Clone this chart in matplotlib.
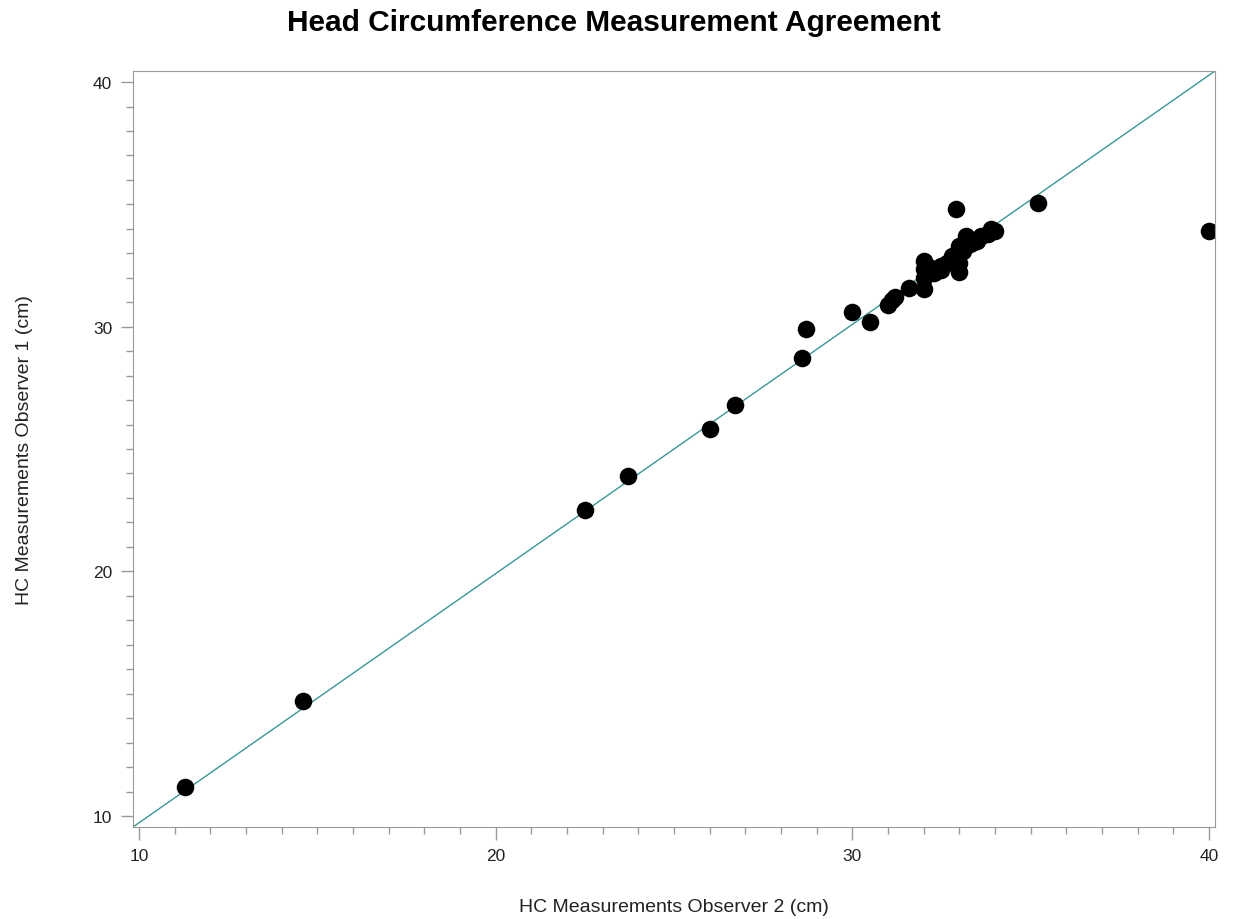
import numpy as np
import matplotlib
matplotlib.use("Agg")
import matplotlib.pyplot as plt
from matplotlib.ticker import MultipleLocator

plt.rcParams['font.family'] = ['Liberation Sans', 'DejaVu Sans']

# observer 2 (x) vs observer 1 (y), cm
obs2 = [11.3, 14.6, 22.5, 23.7, 26.0, 26.7, 28.6, 28.7, 30.0, 30.5,
        31.0, 31.1, 31.2, 31.6, 32.0, 32.0, 32.0, 32.5, 32.65, 32.8,
        33.0, 33.0, 33.2, 33.4, 33.6, 33.9, 34.0, 32.9, 35.2, 40.0,
        32.0, 32.2, 32.5, 32.8, 33.0, 33.1, 33.3, 33.5, 33.8, 32.3]
obs1 = [11.2, 14.7, 22.5, 23.9, 25.8, 26.8, 28.7, 29.9, 30.6, 30.2,
        30.9, 31.1, 31.2, 31.6, 31.55, 32.35, 32.7, 32.3, 32.6, 32.9,
        32.25, 33.3, 33.7, 33.45, 33.7, 34.0, 33.9, 34.8, 35.05, 33.9,
        32.0, 32.4, 32.5, 32.7, 32.6, 33.1, 33.4, 33.5, 33.8, 32.2]

xlim = (9.83, 40.17)
ylim = (9.55, 40.45)
ticks = [10, 20, 30, 40]

fig = plt.figure(figsize=(12.36, 9.2), dpi=100)
ax = fig.add_axes([0.1076, 0.1, 0.8754, 0.8217])

# agreement line across the plot area
ax.plot(xlim, ylim, color='#3a9696', lw=1.0, zorder=1)
ax.scatter(obs2, obs1, s=160, color='black', zorder=2, linewidths=0)

ax.set_xlim(*xlim)
ax.set_ylim(*ylim)
ax.set_xticks(ticks)
ax.set_yticks(ticks)
ax.xaxis.set_minor_locator(MultipleLocator(1))
ax.yaxis.set_minor_locator(MultipleLocator(1))
ax.tick_params(which='major', length=9, width=1, color='#999999', labelsize=12.5,
               labelcolor='#222222', pad=6)
ax.tick_params(which='minor', length=5, width=1, color='#999999')
for s in ax.spines.values():
    s.set_color('#999999')

ax.set_xlabel('HC Measurements Observer 2 (cm)', fontsize=14, color='#222222', labelpad=25)
ax.set_ylabel('HC Measurements Observer 1 (cm)', fontsize=14, color='#222222', labelpad=43)
fig.suptitle('Head Circumference Measurement Agreement', fontsize=21.5, fontweight='bold',
             x=0.497, y=0.99)

fig.savefig('out.png', dpi=100)
